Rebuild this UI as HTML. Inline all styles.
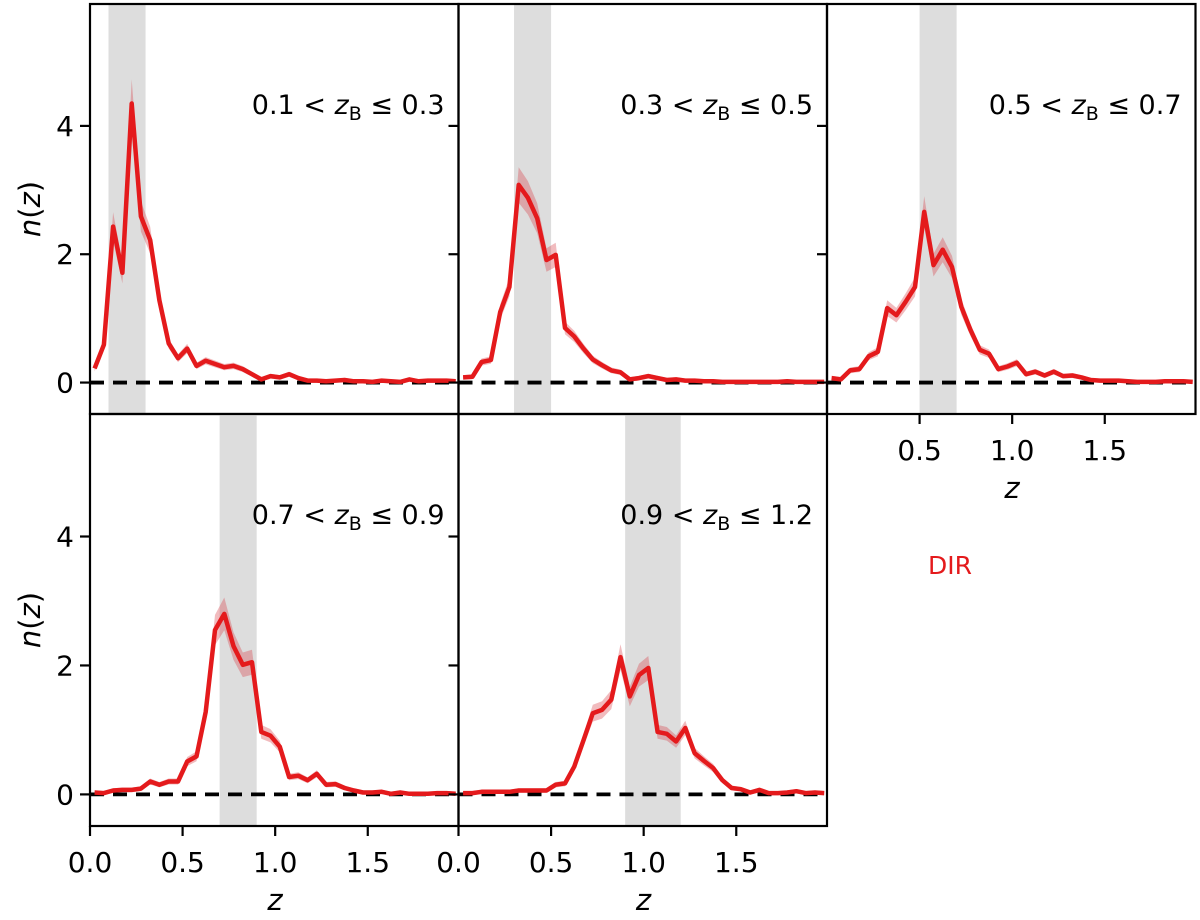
<!DOCTYPE html>
<html><head><meta charset="utf-8"><style>
body{margin:0;background:#fff;}
svg{display:block;font-family:"DejaVu Sans","Liberation Sans",sans-serif;}
</style></head><body>
<svg id="chart" width="1200" height="920" viewBox="0 0 1200 920" xmlns="http://www.w3.org/2000/svg"></svg>
<script>
const zGrid = [];
for (let k = 0; k < 40; k++) zGrid.push(0.025 + 0.05 * k);
const binLabels = ["0.1 < z_B ≤ 0.3","0.3 < z_B ≤ 0.5","0.5 < z_B ≤ 0.7","0.7 < z_B ≤ 0.9","0.9 < z_B ≤ 1.2"];
const binLo = [0.1, 0.3, 0.5, 0.7, 0.9];
const binHi = [0.3, 0.5, 0.7, 0.9, 1.2];
const nz1 = [0.22,0.59,2.43,1.71,4.35,2.59,2.22,1.28,0.61,0.38,0.53,0.26,0.34,0.29,0.24,0.26,0.21,0.13,0.05,0.10,0.08,0.13,0.07,0.03,0.03,0.02,0.03,0.04,0.02,0.02,0.01,0.03,0.02,0.01,0.05,0.02,0.03,0.03,0.03,0.02];
const nz2 = [0.08,0.09,0.32,0.35,1.10,1.49,3.08,2.88,2.56,1.91,1.99,0.85,0.72,0.53,0.36,0.27,0.19,0.16,0.05,0.07,0.10,0.07,0.04,0.05,0.03,0.03,0.02,0.02,0.01,0.01,0.01,0.01,0.01,0.01,0.01,0.02,0.01,0.01,0.01,0.01];
const nz3 = [0.07,0.05,0.19,0.21,0.41,0.48,1.16,1.05,1.26,1.49,2.66,1.83,2.07,1.80,1.18,0.82,0.51,0.45,0.21,0.25,0.31,0.13,0.17,0.11,0.17,0.10,0.11,0.08,0.04,0.03,0.03,0.03,0.02,0.01,0.01,0.01,0.02,0.02,0.02,0.01];
const nz4 = [0.03,0.02,0.06,0.07,0.07,0.09,0.20,0.15,0.20,0.20,0.51,0.59,1.28,2.55,2.80,2.30,2.01,2.05,0.97,0.91,0.74,0.27,0.29,0.22,0.32,0.15,0.16,0.10,0.06,0.03,0.03,0.04,0.01,0.03,0.01,0.01,0.01,0.02,0.02,0.01];
const nz5 = [0.02,0.02,0.04,0.04,0.04,0.04,0.06,0.06,0.06,0.06,0.15,0.17,0.43,0.84,1.26,1.31,1.47,2.13,1.52,1.85,1.96,0.97,0.94,0.82,1.03,0.64,0.52,0.41,0.22,0.10,0.08,0.03,0.07,0.02,0.02,0.03,0.05,0.02,0.03,0.02];
const yTicks = [0, 2, 4];
const xTicks = [0.0, 0.5, 1.0, 1.5];

const svg = document.getElementById('chart');
const NS = 'http://www.w3.org/2000/svg';
function mk(tag, attrs, parent){const e=document.createElementNS(NS,tag);for(const k in attrs)e.setAttribute(k,attrs[k]);(parent||svg).appendChild(e);return e;}

const XMIN=0, XMAX=1.99, YMIN=-0.49, YMAX=5.9;
const panels = [
  {data:nz1, x0:90, y0:4, y1:414, xt:[] , xl:false},
  {data:nz2, x0:458.5, y0:4, y1:414, xt:[], xl:false},
  {data:nz3, x0:827, y0:4, y1:414, xt:[0.5,1.0,1.5], xl:true},
  {data:nz4, x0:90, y0:414, y1:826, xt:xTicks, xl:true},
  {data:nz5, x0:458.5, y0:414, y1:826, xt:xTicks, xl:true}
];
const W = 368.5;

panels.forEach((p, i) => {
  const g = mk('g', {});
  
  
  const sx = z => p.x0 + (z - XMIN) / (XMAX - XMIN) * W;
  const sy = v => p.y1 - (v - YMIN) / (YMAX - YMIN) * (p.y1 - p.y0);
  const band = mk('rect', {x:sx(binLo[i]), y:p.y0, width:sx(binHi[i])-sx(binLo[i]), height:p.y1-p.y0, fill:'#dddddd'}, g);
  
  
  let up='', dn='';
  p.data.forEach((v,k)=>{const e=0.03+0.08*v; up += (k?'L':'M')+sx(zGrid[k]).toFixed(1)+','+sy(v+e).toFixed(1);});
  for (let k=p.data.length-1;k>=0;k--){const v=p.data[k];const e=0.03+0.08*v; dn += 'L'+sx(zGrid[k]).toFixed(1)+','+sy(Math.max(v-e,-0.02)).toFixed(1);}
  const eb = mk('path', {d:up+dn+'Z', fill:'rgba(214,60,70,0.35)', stroke:'none'}, g);
  
  
  const zl = mk('line', {x1:p.x0, x2:p.x0+W, y1:sy(0), y2:sy(0), stroke:'#000', 'stroke-width':3.8, 'stroke-dasharray':'14,9'}, g);
  
  
  let d='';
  p.data.forEach((v,k)=>{d += (k?'L':'M')+sx(zGrid[k]).toFixed(1)+','+sy(v).toFixed(1);});
  const ln = mk('path', {d:d, fill:'none', stroke:'#e41a1c', 'stroke-width':4.5, 'stroke-linejoin':'round'}, g);
  
  
  const fr = mk('rect', {x:p.x0, y:p.y0, width:W, height:p.y1-p.y0, fill:'none', stroke:'#000', 'stroke-width':2.2}, g);
  
  
  yTicks.forEach(t => {
    const tk = mk('line', {x1:p.x0-10, x2:p.x0, y1:sy(t), y2:sy(t), stroke:'#000', 'stroke-width':2.2}, g);
    
    
    if (p.x0 === 90) {
      const tl = mk('text', {x:p.x0-16, y:sy(t)+10, 'text-anchor':'end', 'font-size':28, fill:'#000'}, g);
      tl.textContent = t;
      
      
    }
  });
  if (p.x0 === 90) {
    const cy = (p.y0+p.y1)/2;
    const yl = mk('text', {x:0, y:0, transform:'translate(40,'+cy+') rotate(-90)', 'text-anchor':'middle', 'font-size':29, fill:'#000'}, g);
    yl.innerHTML = '<tspan font-style="italic">n</tspan>(<tspan font-style="italic">z</tspan>)';
    
    
  }
  p.xt.forEach(t => {
    const tk = mk('line', {x1:sx(t), x2:sx(t), y1:p.y1, y2:p.y1+10, stroke:'#000', 'stroke-width':2.2}, g);
    
    
    const tl = mk('text', {x:sx(t), y:p.y1+46, 'text-anchor':'middle', 'font-size':28, fill:'#000'}, g);
    tl.textContent = t.toFixed(1);
    
    
  });
  if (p.xl) {
    const xl = mk('text', {x:p.x0+185, y:p.y1+84, 'text-anchor':'middle', 'font-size':29, 'font-style':'italic', fill:'#000'}, g);
    xl.textContent = 'z';
    
    
  }
  const parts = binLabels[i].split('z_B');
  const an = mk('text', {x:p.x0+W-14, y:p.y0+110, 'text-anchor':'end', 'font-size':27, fill:'#000'}, g);
  an.innerHTML = parts[0] + '<tspan font-style="italic">z</tspan><tspan font-size="19" dy="6">B</tspan><tspan dy="-6">' + parts[1] + '</tspan>';
  
  
});
const dir = mk('text', {x:950, y:574, 'text-anchor':'middle', 'font-size':25, fill:'#e41a1c'});
dir.textContent = 'DIR';


</script>
</body></html>
